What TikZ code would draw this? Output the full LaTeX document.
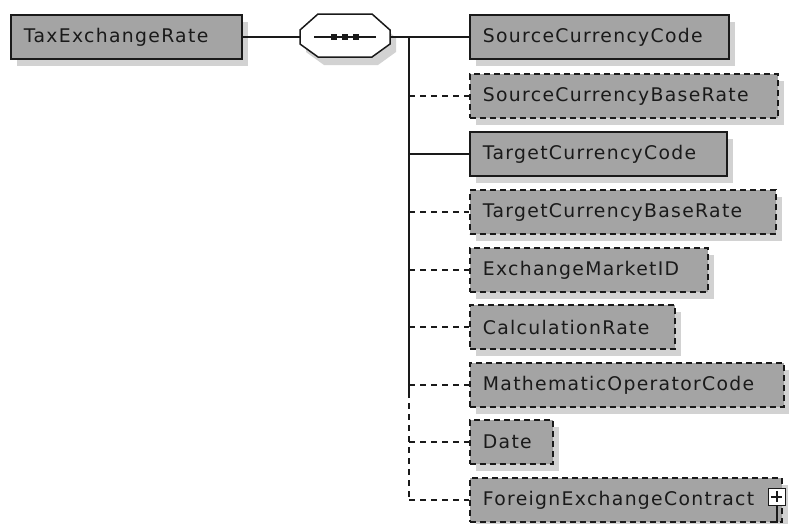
\documentclass[tikz,border=0pt]{standalone}
\usepackage{fontspec}
\setmainfont{DejaVu Sans}[LetterSpace=7]
\usetikzlibrary{shadows}
\definecolor{boxgray}{HTML}{A4A4A4}
\definecolor{shadgray}{HTML}{D2D2D2}
\definecolor{ink}{HTML}{1A1A1A}
\tikzset{
  elem/.style={draw=ink, line width=1.8pt, fill=boxgray, anchor=west,
    minimum height=44pt, inner xsep=0pt, inner ysep=0pt,
    font=\fontsize{18.8}{22}\selectfont, text=ink,
    drop shadow={shadow xshift=6pt, shadow yshift=-7pt, fill=shadgray, opacity=1}},
  opt/.style={elem, dash pattern=on 6pt off 4pt},
  wire/.style={draw=ink, line width=1.5pt},
  dwire/.style={wire, dash pattern=on 6pt off 5pt},
}
\newcommand{\elemtext}[2]{\parbox[c][44pt][c]{#1}{\hspace*{13pt}#2}}
\begin{document}
\begin{tikzpicture}[x=1pt,y=-1pt]
\useasboundingbox (0,0) rectangle (789,523);
% root
\node[elem] (root) at (10,37) {\elemtext{231pt}{TaxExchangeRate}};
% sequence compositor
\fill[shadgray] (324,22) -- (378,22) -- (396,38) -- (396,52) -- (378,65) -- (324,65) -- (306,52) -- (306,38) -- cycle;
\draw[draw=ink, line width=1.5pt, fill=white] (318,14) -- (372,14) -- (390,30) -- (390,44) -- (372,57) -- (318,57) -- (300,44) -- (300,30) -- cycle;
\coordinate (seqL) at (300,37);
\coordinate (seqR) at (390,37);
\draw[ink, line width=1.4pt] (314,37) -- (376,37);
\foreach \dx in {334,345,356} \fill[ink] (\dx-3,34) rectangle (\dx+3,40);
\draw[wire] (root.east) -- (seqL);
\coordinate (trunk) at (409,37);
\coordinate (trunkmid) at (409,392);
\coordinate (trunkend) at (409,500);
\draw[wire] (seqR) -- (trunk) -- (trunkmid);
\draw[dwire] (trunkmid) -- (trunkend);
% children
\node[elem] (c1) at (469,37) {\elemtext{259pt}{SourceCurrencyCode}};
\node[opt]  (c2) at (469,96) {\elemtext{308pt}{SourceCurrencyBaseRate}};
\node[elem] (c3) at (469,154) {\elemtext{257pt}{TargetCurrencyCode}};
\node[opt]  (c4) at (469,212) {\elemtext{306pt}{TargetCurrencyBaseRate}};
\node[opt]  (c5) at (469,270) {\elemtext{238pt}{ExchangeMarketID}};
\node[opt]  (c6) at (469,327) {\elemtext{205pt}{CalculationRate}};
\node[opt]  (c7) at (469,385) {\elemtext{314pt}{MathematicOperatorCode}};
\node[opt]  (c8) at (469,442) {\elemtext{83pt}{Date}};
\node[opt]  (c9) at (469,500) {\elemtext{312pt}{ForeignExchangeContract}};
% connectors
\draw[wire] (trunk) -- (c1.west);
\draw[dwire] (c2.west -| trunk) -- (c2.west);
\draw[wire] (c3.west -| trunk) -- (c3.west);
\foreach \n in {c4,c5,c6,c7,c8,c9} \draw[dwire] (\n.west -| trunk) -- (\n.west);
% expand box
\node[draw=ink, line width=1.5pt, fill=white, minimum size=17pt, inner sep=0pt] (plus) at (777,497) {};
\draw[ink, line width=1.5pt] (plus.north) ++(0,3) -- ++(0,11);
\draw[ink, line width=1.5pt] (plus.west) ++(3,0) -- ++(11,0);
\coordinate (stem) at (777,523);
\draw[wire] (plus.south) -- (stem);
\end{tikzpicture}
\end{document}
